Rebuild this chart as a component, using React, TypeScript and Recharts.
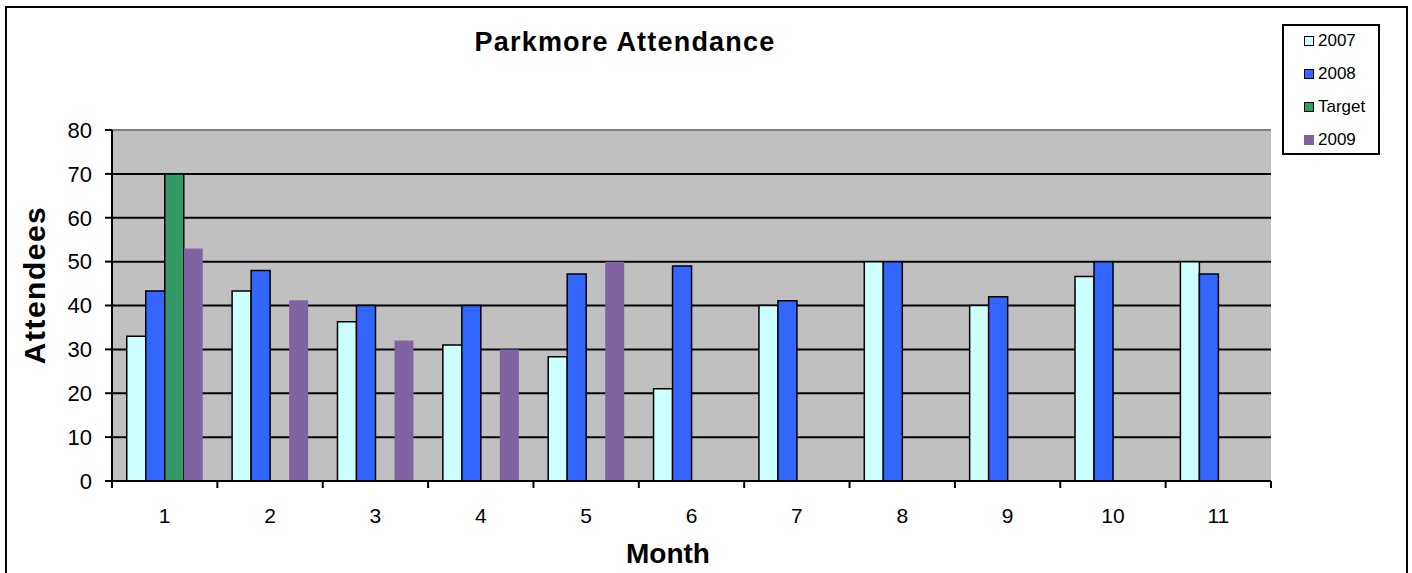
import React from 'react';
import { BarChart, Bar, XAxis, YAxis, CartesianGrid, ReferenceLine, Legend } from 'recharts';

const months = ['1', '2', '3', '4', '5', '6', '7', '8', '9', '10', '11'];
const attend2007 = [33, 43.3, 36.3, 31, 28.3, 21, 40, 50, 40, 46.6, 50];
const attend2008 = [43.3, 48, 40, 40, 47.2, 49, 41.1, 50, 42, 50, 47.2];
const target = [70, null, null, null, null, null, null, null, null, null, null];
const attend2009 = [53, 41.2, 32, 30, 50, null, null, null, null, null, null];
const yTicks = [0, 10, 20, 30, 40, 50, 60, 70, 80];

const FONT = '"Liberation Sans", Arial, sans-serif';

const chartData = months.map((m, i) => ({
  month: m,
  '2007': attend2007[i],
  '2008': attend2008[i],
  Target: target[i],
  '2009': attend2009[i],
}));

const legendItems = [
  { name: '2007', fill: '#CCFFFF', stroke: '#000' },
  { name: '2008', fill: '#3366FF', stroke: '#000' },
  { name: 'Target', fill: '#339966', stroke: '#000' },
  { name: '2009', fill: '#8064A2', stroke: 'none' },
];

const BAND = 1159 / months.length;

const MonthTick = (props: any) => {
  const { x, y, payload, index } = props;
  const last = index === months.length - 1;
  return (
    <g>
      <line x1={x - BAND / 2} x2={x - BAND / 2} y1={y} y2={y + 7} stroke="#000" strokeWidth={2} />
      {last && <line x1={x + BAND / 2} x2={x + BAND / 2} y1={y} y2={y + 7} stroke="#000" strokeWidth={2} />}
      <text x={x} y={y + 34} textAnchor="middle" dominantBaseline="central" fontSize={21} fill="#000" fontFamily={FONT}>
        {payload.value}
      </text>
    </g>
  );
};

const YLabel = () => (
  <text
    x={34}
    y={285}
    transform="rotate(-90, 34, 285)"
    textAnchor="middle"
    dominantBaseline="central"
    fontSize={30}
    fontWeight="bold"
    letterSpacing={1.5}
    fill="#000"
    fontFamily={FONT}
  >
    Attendees
  </text>
);

const XLabel = () => (
  <text x={668} y={553} textAnchor="middle" dominantBaseline="central" fontSize={28} fontWeight="bold" fill="#000" fontFamily={FONT}>
    Month
  </text>
);

const LegendBox = () => (
  <div
    style={{
      width: 94,
      height: 127,
      border: '2px solid #000',
      background: '#fff',
      fontFamily: FONT,
      fontSize: 17,
      position: 'relative',
    }}
  >
    {legendItems.map((it, i) => (
      <div key={it.name} style={{ position: 'absolute', left: 20, top: 5 + i * 33, height: 20, display: 'flex', alignItems: 'center' }}>
        <div
          style={{
            width: it.stroke === 'none' ? 10 : 8,
            height: it.stroke === 'none' ? 10 : 8,
            background: it.fill,
            border: it.stroke === 'none' ? 'none' : '1.5px solid #000',
            marginRight: 4,
          }}
        />
        <span>{it.name}</span>
      </div>
    ))}
  </div>
);

export default function App() {
  return (
    <div style={{ position: 'absolute', left: 0, top: 0, width: 1412, height: 573, background: '#fff', overflow: 'hidden' }}>
      <div style={{ position: 'absolute', left: 5, top: 6, width: 1399, height: 600, border: '2px solid #000' }} />
      <div
        style={{
          position: 'absolute',
          left: 425,
          width: 400,
          top: 27,
          textAlign: 'center',
          fontFamily: FONT,
          fontWeight: 'bold',
          fontSize: 27,
          letterSpacing: 1.2,
        }}
      >
        Parkmore Attendance
      </div>
      <div style={{ position: 'absolute', left: 0, top: 0 }}>
        <BarChart
          width={1412}
          height={573}
          data={chartData}
          margin={{ top: 130, right: 141, left: 0, bottom: 0 }}
          barGap={0}
          barCategoryGap="14%"
        >
          <CartesianGrid vertical={false} stroke="#000" strokeWidth={2} fill="#C0C0C0" fillOpacity={1} />
          <ReferenceLine y={80} stroke="#808080" strokeWidth={2} />
          <XAxis
            dataKey="month"
            height={92}
            tickLine={false}
            tickSize={0}
            tickMargin={0}
            axisLine={{ stroke: '#000', strokeWidth: 2 }}
            tick={<MonthTick />}
            interval={0}
            label={<XLabel />}
          />
          <YAxis
            width={112}
            domain={[0, 80]}
            ticks={yTicks}
            interval={0}
            tickSize={7}
            tickMargin={13}
            tickLine={{ stroke: '#000', strokeWidth: 2 }}
            axisLine={{ stroke: '#000', strokeWidth: 2 }}
            tick={{ fontSize: 22, fill: '#000', fontFamily: FONT }}
            label={<YLabel />}
          />
          <YAxis yAxisId="frame" orientation="right" width={0} tick={false} tickLine={false} axisLine={{ stroke: '#808080', strokeWidth: 2 }} />
          <Legend
            layout="horizontal"
            align="center"
            verticalAlign="middle"
            content={<LegendBox />}
            wrapperStyle={{ position: 'absolute', left: 1282, top: 24, width: 98, height: 131 }}
          />
          <Bar dataKey="2007" fill="#CCFFFF" stroke="#000" strokeWidth={1.5} isAnimationActive={false} />
          <Bar dataKey="2008" fill="#3366FF" stroke="#000" strokeWidth={1.5} isAnimationActive={false} />
          <Bar dataKey="Target" fill="#339966" stroke="#000" strokeWidth={1.5} isAnimationActive={false} />
          <Bar dataKey="2009" fill="#8064A2" isAnimationActive={false} />
        </BarChart>
      </div>
    </div>
  );
}
